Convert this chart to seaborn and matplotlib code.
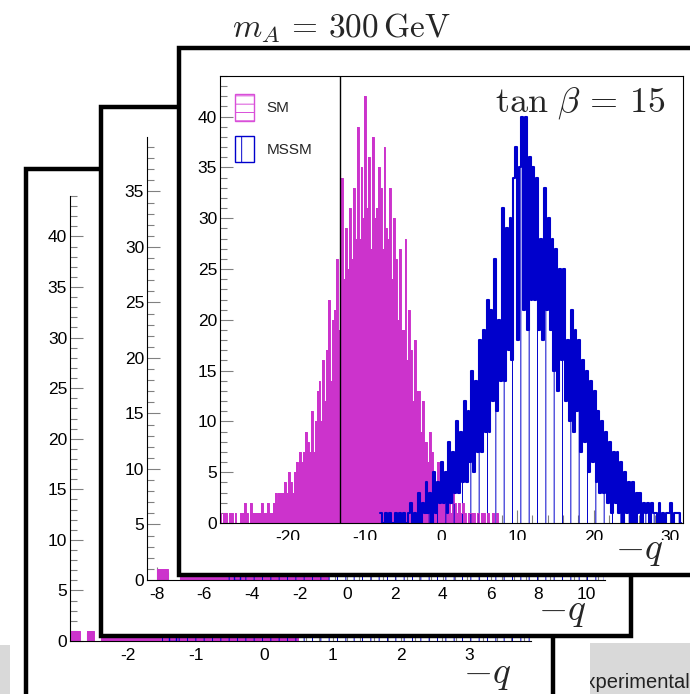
import numpy as np
import pandas as pd
import matplotlib
matplotlib.use("Agg")
import matplotlib.pyplot as plt
from matplotlib.patches import Rectangle, Patch
from matplotlib.ticker import MultipleLocator
from matplotlib.transforms import Bbox
import seaborn as sns

# ---------------- data ----------------
# front canvas: m_A = 300 GeV, tan(beta) = 15 (bin width 0.25)
front_bin_width = 0.25
front_sm_first_edge = -29.25
front_sm_counts = [
    1,
    1, 0, 1, 1,   0, 1, 1, 0,   1, 0, 0, 1,   1, 2, 1, 0,   2, 1, 1, 1,
    1, 1, 2, 1,   1, 2, 1, 1,   2, 3, 2, 3,   3, 3, 4, 3,   5, 4, 3, 5,
    6, 5, 7, 6,   7, 9, 8, 7,   11, 7, 10, 13,   14, 10, 16, 12,
    17, 22, 14, 20,   21, 26, 19, 24,   34, 24, 29, 25,   31, 26, 33, 28,
    39, 28, 35, 30,   42, 31, 36, 27,   38, 30, 31, 35,   33, 27, 37, 29,
    28, 33, 24, 30,   26, 20, 27, 19,   19, 28, 16, 21,   17, 12, 18, 13,
    13, 9, 12, 8,   8, 6, 9, 7,   5, 4, 6, 3,   3, 4, 2, 3,   2, 1, 3, 2,
    1, 2, 1, 2,   1, 0, 1, 1,   1, 1, 0, 1,   0, 1, 1, 0,   1, 0, 0, 1,
    0, 1, 0, 0,
]
front_mssm_first_edge = -8.0
front_mssm_counts = [
    1, 0, 0, 1,   0, 1, 0, 0,   1, 0, 1, 0,   1, 0, 0, 1,   2, 0, 1, 0,
    3, 0, 2, 1,   4, 1, 3, 0,   5, 1, 4, 2,   6, 2, 5, 1,   8, 2, 7, 3,
    10, 3, 9, 4,   12, 4, 11, 6,   15, 5, 14, 7,   18, 7, 19, 9,
    22, 9, 21, 12,   26, 11, 20, 14,   31, 14, 29, 17,   30, 16, 34, 37,
    18, 35, 40, 21,   40, 19, 36, 22,   35, 22, 34, 19,   28, 18, 33, 21,
    30, 19, 28, 15,   27, 13, 25, 16,   25, 12, 18, 10,   21, 9, 19, 11,
    18, 7, 16, 8,   15, 5, 14, 6,   13, 4, 11, 3,   10, 3, 9, 2,
    8, 1, 7, 2,   7, 1, 6, 0,   5, 1, 4, 0,   4, 0, 3, 1,   3, 0, 2, 1,
    2, 0, 2, 1,   1, 0, 2, 0,   1, 0, 1, 1,   2, 0, 1, 1,   1, 0,
]
front_cut = -13.2

# middle canvas (bin width 0.25)
mid_bin_width = 0.25
mid_sm_first_edge = -8.5
mid_sm_counts = [0, 0, 1, 1, 0, 0, 2, 2, 3, 5, 8, 11, 15, 22, 26, 33, 38, 35,
                 31, 34, 27, 22, 18, 13, 10, 7, 4, 3, 2, 1, 1]
mid_mssm_first_edge = -5.0
mid_mssm_counts = [
    1, 0, 1, 1,   2, 1, 2, 3,   3, 4, 5, 4,   6, 8, 7, 10,   12, 11, 15, 14,
    18, 21, 19, 24,   26, 23, 29, 27,   31, 28, 34, 30,   33, 29, 31, 35,
    28, 30, 26, 27,   24, 21, 22, 18,   17, 14, 15, 12,   10, 11, 8, 7,
    6, 5, 6, 4,   3, 4, 2, 3,   2, 1, 2,
]

# back canvas (bin width 0.1)
back_bin_width = 0.1
back_sm_first_edge = -2.9
back_sm_counts = [1, 1, 0, 1, 0, 2, 1, 3, 2, 4, 5, 7, 9, 12, 15, 19, 24, 28,
                  33, 36, 31, 35, 38, 30, 27, 22, 18, 14, 10, 7, 5, 3, 2, 1]
back_mssm_first_edge = -1.5
back_mssm_counts = [
    1, 0, 1, 2, 1, 2, 3, 2, 4, 5, 6, 8, 7, 10, 12, 14, 17, 16, 20, 23,
    25, 27, 30, 28, 33, 31, 35, 29, 32, 34, 30, 27, 29, 25, 22, 21, 18, 16,
    13, 12, 10, 8, 7, 5, 6, 4, 3, 3, 2, 2, 1, 2, 1, 1,
]

legend_labels = ["SM", "MSSM"]
title_text = r"$m_A\,=\,300\,\mathrm{GeV}$"
tanb_text = r"$\tan\,\beta\,=\,15$"
xlabel_text = r"$-q$"

# ---------------- style ----------------
sns.set_theme(style="white")
plt.rcParams["font.family"] = ["Liberation Sans", "DejaVu Sans"]
plt.rcParams["mathtext.fontset"] = "cm"
plt.rcParams["axes.unicode_minus"] = False
plt.rcParams["hatch.linewidth"] = 0.7

MAG = "#cc33cc"
BLUE = "#0000cc"
W, H = 690, 694

fig = plt.figure(figsize=(W / 100, H / 100), dpi=100)
fig.patch.set_facecolor("white")


def fx(px):
    return px / W


def fy(py):
    return 1 - py / H


def ax_at(left, top, right, bottom, z):
    ax = fig.add_axes([fx(left), fy(bottom), (right - left) / W, (bottom - top) / H])
    ax.set_zorder(z)
    return ax


def frame(left, top, right, bottom, z):
    fig.add_artist(Rectangle((fx(left), fy(bottom)), (right - left) / W, (bottom - top) / H,
                             transform=fig.transFigure, facecolor="white",
                             edgecolor="black", linewidth=3.2, zorder=z))


def draw_hist(ax, first_edge, width, counts, color, solid, lw=1.0):
    edges = (first_edge + width * np.arange(len(counts) + 1)).tolist()
    df = pd.DataFrame({"q": [e + width / 2 for e in edges[:-1]], "n": counts})
    if solid:
        sns.histplot(data=df, x="q", weights="n", bins=edges, element="step",
                     fill=True, color=color, alpha=1, linewidth=0, ax=ax)
        sns.histplot(data=df, x="q", weights="n", bins=edges, element="step",
                     fill=False, color=color, alpha=1, linewidth=0.7, ax=ax)
    else:
        sns.histplot(data=df, x="q", weights="n", bins=edges, element="step",
                     fill=True, color=color, facecolor="none", hatch="||",
                     alpha=1, linewidth=0, ax=ax)
        sns.histplot(data=df, x="q", weights="n", bins=edges, element="step",
                     fill=False, color=color, alpha=1, linewidth=lw, ax=ax)


def style_axes(ax, xlim, ylim, xmaj, xmin, box):
    ax.set_xlim(*xlim)
    ax.set_ylim(*ylim)
    ax.xaxis.set_major_locator(MultipleLocator(xmaj))
    ax.xaxis.set_minor_locator(MultipleLocator(xmin))
    ax.yaxis.set_major_locator(MultipleLocator(5))
    ax.yaxis.set_minor_locator(MultipleLocator(1))
    ax.tick_params(which="both", direction="in", color="#808080", width=0.8,
                   labelsize=12.5, labelcolor="black", top=False, right=False,
                   bottom=True, left=True)
    ax.tick_params(axis="y", which="major", length=9.5, pad=2)
    ax.tick_params(axis="y", which="minor", length=5)
    ax.tick_params(axis="x", which="major", length=9.5, pad=5)
    ax.tick_params(axis="x", which="minor", length=5.5)
    for name, sp in ax.spines.items():
        sp.set_color("black")
        sp.set_linewidth(0.8)
        if not box and name in ("top", "right"):
            sp.set_visible(False)
    ax.set_xlabel("")
    ax.set_ylabel("")
    ax.set_facecolor("white")


# grey background bits
fig.add_artist(Rectangle((fx(0), fy(694)), 10 / W, 49 / H, transform=fig.transFigure,
                         facecolor="#d9d9d9", edgecolor="none", zorder=0.2))
fig.add_artist(Rectangle((fx(590), fy(694)), 100 / W, 51 / H, transform=fig.transFigure,
                         facecolor="#d9d9d9", edgecolor="none", zorder=0.2))
exp_txt = fig.text(fx(572), fy(688), "Experimental", fontsize=14.5, color="#222222",
                   ha="left", va="baseline", zorder=0.3)
exp_txt.set_clip_box(Bbox.from_extents(590, 0, 690, 51))
exp_txt.set_clip_on(True)

# ---- back canvas ----
frame(26, 169, 553, 760, 1)
ax1 = ax_at(70, 196, 531, 641, 2)
draw_hist(ax1, back_sm_first_edge, back_bin_width, back_sm_counts, MAG, True)
draw_hist(ax1, back_mssm_first_edge, back_bin_width, back_mssm_counts, BLUE, False)
style_axes(ax1, (-2.85, 3.9), (0, 44), 1, 0.2, False)
ax1.text(fx(511), fy(683), xlabel_text, transform=fig.transFigure, ha="right",
         va="baseline", fontsize=27)

# ---- middle canvas ----
frame(101, 107, 631, 636, 3)
ax2 = ax_at(147, 137, 605, 580, 4)
draw_hist(ax2, mid_sm_first_edge, mid_bin_width, mid_sm_counts, MAG, True)
draw_hist(ax2, mid_mssm_first_edge, mid_bin_width, mid_mssm_counts, BLUE, False)
style_axes(ax2, (-8.4, 10.8), (0, 39.9), 2, 0.5, False)
ax2.text(fx(586), fy(620), xlabel_text, transform=fig.transFigure, ha="right",
         va="baseline", fontsize=27)

# ---- front canvas ----
frame(179, 48, 760, 575, 5)
ax3 = ax_at(220, 76, 683, 523, 6)
draw_hist(ax3, front_sm_first_edge, front_bin_width, front_sm_counts, MAG, True)
draw_hist(ax3, front_mssm_first_edge, front_bin_width, front_mssm_counts, BLUE, False, lw=1.5)
ax3.axvline(front_cut, color="black", linewidth=1.0, zorder=5)
style_axes(ax3, (-28.9, 31.7), (0, 44), 10, 2, True)
ax3.text(fx(663), fy(559), xlabel_text, transform=fig.transFigure, ha="right",
         va="baseline", fontsize=27)
ax3.text(fx(341), fy(37), title_text, transform=fig.transFigure, ha="center",
         va="baseline", fontsize=24)
ax3.text(fx(666), fy(112), tanb_text, transform=fig.transFigure, ha="right",
         va="baseline", fontsize=26)

handles = [
    Patch(facecolor="white", edgecolor="#d94fd9", hatch="--", linewidth=1.0, label=legend_labels[0]),
    Patch(facecolor="white", edgecolor=BLUE, hatch="|", linewidth=1.0, label=legend_labels[1]),
]
ax3.legend(handles=handles, loc="upper left", bbox_to_anchor=(fx(235), fy(94)),
           bbox_transform=fig.transFigure, frameon=False, fontsize=11,
           handlelength=1.25, handleheight=2.3, labelspacing=1.0,
           handletextpad=0.8, borderpad=0, borderaxespad=0)

fig.canvas.draw()
clip_front = Bbox.from_extents(0, H - 540, W, H)
for lab in ax3.get_xticklabels():
    lab.set_clip_box(clip_front)
    lab.set_clip_on(True)

fig.savefig("out.png", dpi=100, facecolor="white")
